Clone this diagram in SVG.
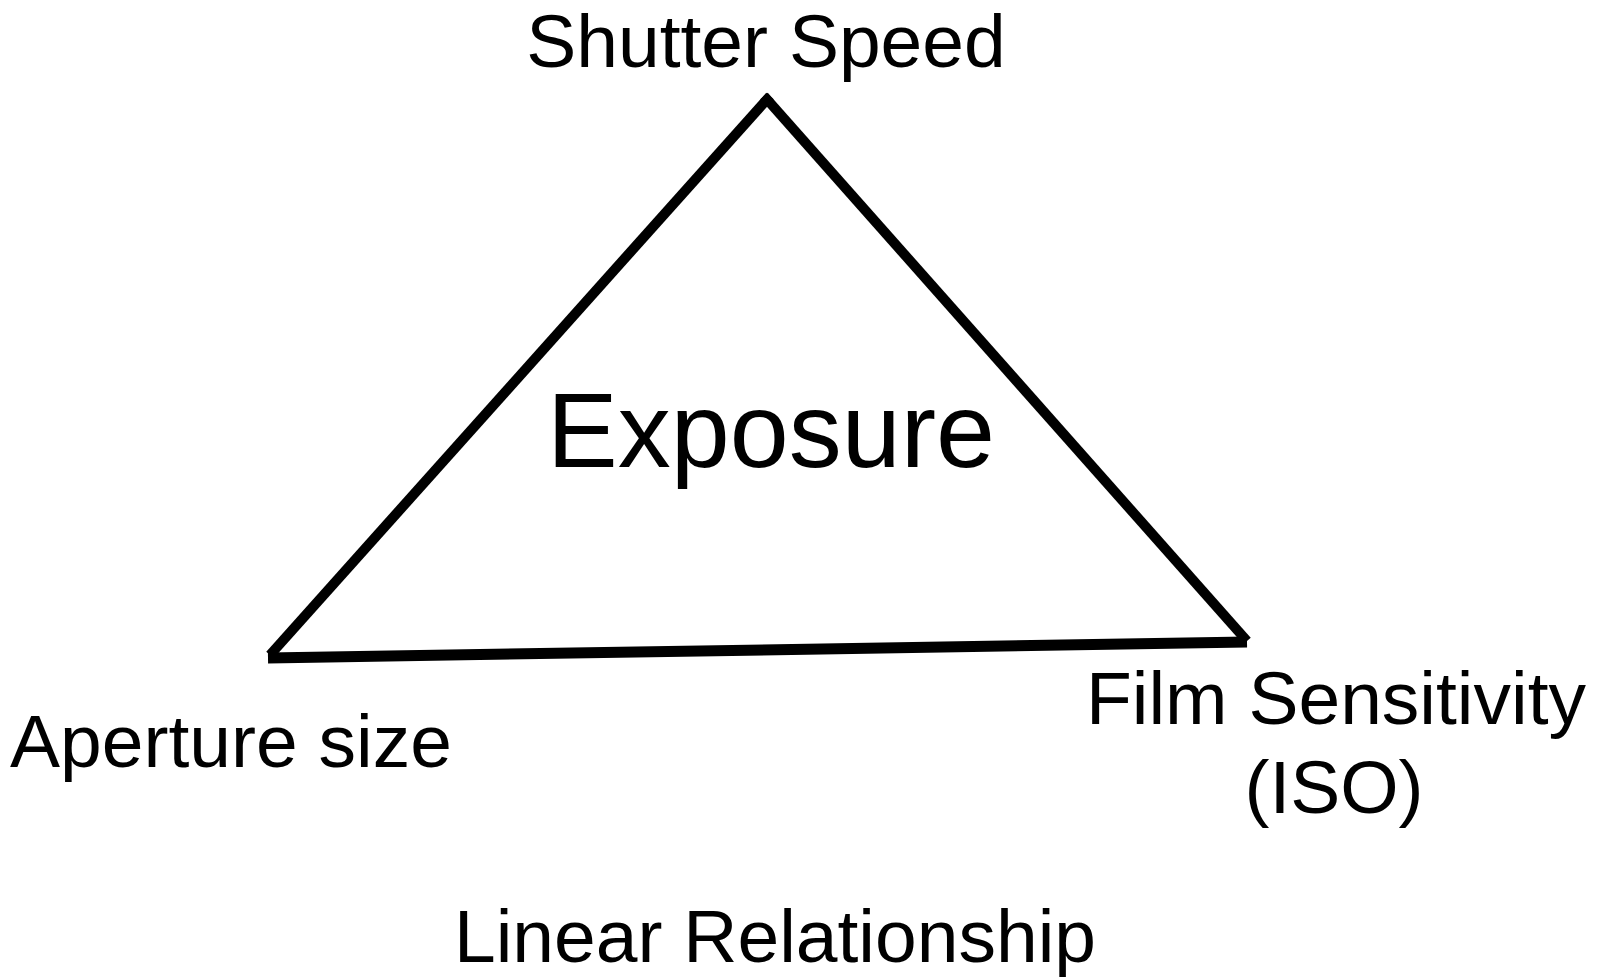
<svg xmlns="http://www.w3.org/2000/svg" width="1599" height="977" viewBox="0 0 1599 977">
<style>
.lbl{font-family:"Liberation Sans",Arial,sans-serif;font-size:75px;fill:#000}
.edge{stroke:#000;stroke-width:10;fill:none;stroke-linecap:butt}
</style>
<rect width="1599" height="977" fill="#fff"/>
<g id="connectors">
<line class="edge" x1="770" y1="96" x2="270" y2="655"/>
<line class="edge" x1="764" y1="96" x2="1247" y2="641"/>
<line class="edge" x1="268" y1="658" x2="1247" y2="642" style="stroke-width:11"/>
</g>
<g id="shutter"><text class="lbl" x="766" y="67" text-anchor="middle">Shutter Speed</text></g>
<g id="exposure"><text class="lbl" x="771" y="467" text-anchor="middle" style="font-size:106px">Exposure</text></g>
<g id="aperture"><text class="lbl" x="10" y="767">Aperture size</text></g>
<g id="iso"><text class="lbl" x="1336" y="724" text-anchor="middle">Film Sensitivity</text><text class="lbl" x="1334" y="813" text-anchor="middle">(ISO)</text></g>
<g id="linear"><text class="lbl" x="775" y="962" text-anchor="middle">Linear Relationship</text></g>
</svg>
